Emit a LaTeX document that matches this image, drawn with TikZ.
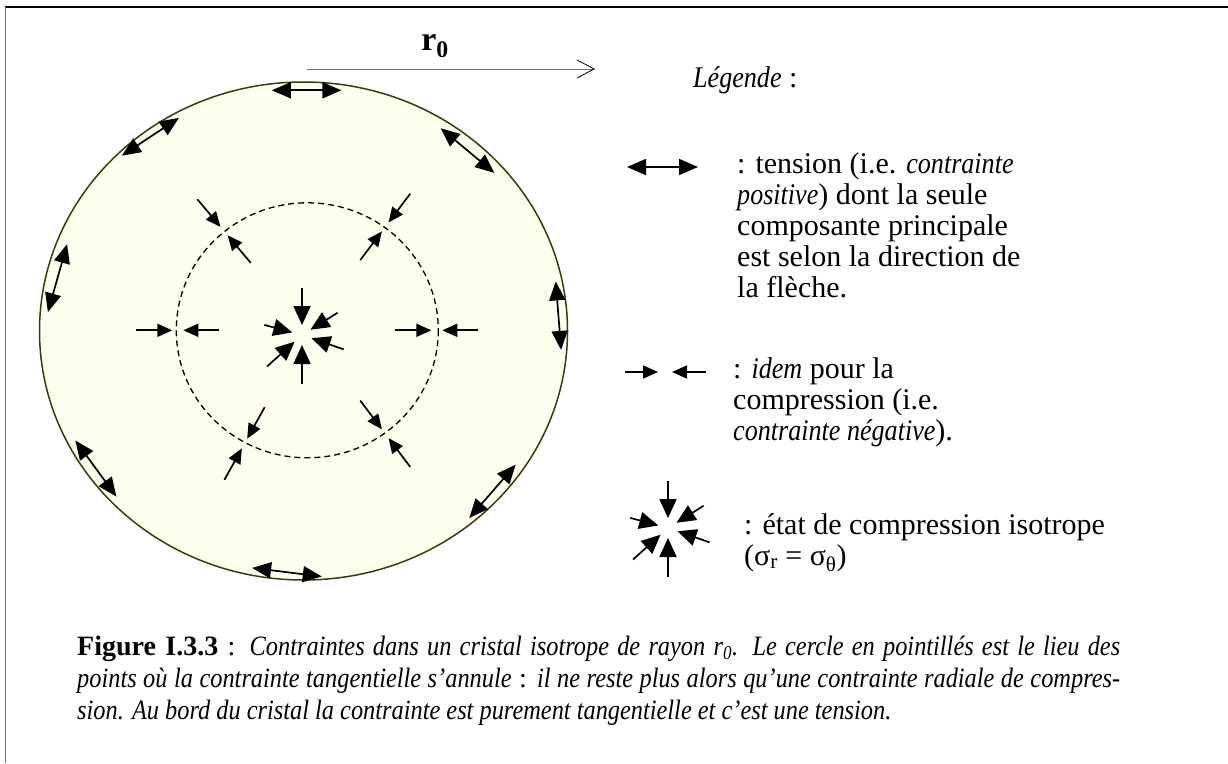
\documentclass[tikz,border=0pt]{standalone}
\usepackage{fontspec}
\setmainfont{Liberation Serif}[ItalicFeatures={FakeStretch=0.87}]
\usetikzlibrary{arrows.meta,calc}
\definecolor{Ivory}{HTML}{FEFEEE}
\definecolor{Olive}{HTML}{3A3A10}
\definecolor{Slate}{HTML}{6E6E6E}

\begin{document}
\begin{tikzpicture}[x=1pt,y=-1pt,
  tens/.style={{Triangle[length=19pt,width=16pt]}-{Triangle[length=19pt,width=16pt]},line width=1.7pt},
  comp/.style={-{Triangle[length=15pt,width=13pt]},line width=1.7pt},
  starray/.style={-{Triangle[length=19pt,width=17pt]},line width=1.7pt},
  isostar/.pic={\foreach \a/\r in {90/47,32/42,-19/44,270/49,222/47,165/39}
    \draw[starray] (-\a:\r) -- (-\a:10);},
  leg/.style={anchor=base west,inner sep=0pt,font=\fontsize{30}{31}\selectfont},
  capline/.style={anchor=base west,inner sep=0pt,font=\fontsize{28}{32}\selectfont}]
\useasboundingbox (0,0) rectangle (1228,763);
% cadre
\draw[line width=2pt] (5,7) -- (1228,7);
\draw[line width=1pt,Slate] (5,7) -- (5,763);
% rayon r0
\coordinate (r0a) at (307,69); \coordinate (r0b) at (595,69);
\draw[Slate,line width=.8pt,-{Straight Barb[length=17pt,width=18pt,line width=.8pt,black]}] (r0a) -- (r0b);
\node[anchor=base,inner sep=0pt,font=\bfseries\fontsize{34}{40}\selectfont] (r0) at (435,50) {r\textsubscript{0}};
% cristal
\coordinate (ctr) at (303.5,331);
\draw[Olive,line width=1.5pt,fill=Ivory] (ctr) ellipse [x radius=264,y radius=249];
% tension au bord
\foreach \p/\q in {{271.8,90.3}/{341.4,90.3},{121.8,155.7}/{178.9,117.9},{440.7,128.2}/{494.3,172.9},
  {67.1,244.2}/{47.9,312.1},{555.7,281.4}/{561.1,349.9},{75.4,440.5}/{116.4,496.6},
  {469.3,518}/{515.7,464.6},{252.1,567.9}/{321.8,576.5}}
  \draw[tens] (\p) -- (\q);
% cercle en pointilles
\coordinate (mid) at (307.3,330.3);
\draw[dash pattern=on 6pt off 4pt,line width=1.3pt] (mid) ellipse [x radius=131,y radius=127.5];
\foreach \a in {0,53,130,180,241,307}{
  \draw[comp] ($(mid)+(-\a:171)$) -- ($(mid)+(-\a:135)$);
  \draw[comp] ($(mid)+(-\a:88)$) -- ($(mid)+(-\a:124)$);}
% centre
\coordinate (core) at (302,335);
\pic at (core) {isostar};
% legende
\node[leg] (legtitle) at (693,87) {\textit{Légende} :};
\coordinate (ta) at (627,167); \coordinate (tb) at (698,167);
\draw[tens] (ta) -- (tb);
\node[leg] (tension) at (737,173) {\begin{tabular}[t]{@{}l@{}}: tension (i.e. \textit{contrainte}\\
  \textit{positive}) dont la seule\\ composante principale\\ est selon la direction de\\ la flèche.\end{tabular}};
\coordinate (ca) at (625,372); \coordinate (cb) at (658,372);
\coordinate (cc) at (706,372); \coordinate (cd) at (672,372);
\draw[comp] (ca) -- (cb); \draw[comp] (cc) -- (cd);
\node[leg] (compression) at (733,378) {\begin{tabular}[t]{@{}l@{}}: \textit{idem} pour la\\
  compression (i.e.\\ \textit{contrainte négative}).\end{tabular}};
\coordinate (legstar) at (668,528);
\pic at (legstar) {isostar};
\node[leg] (isotrope) at (744,534) {\begin{tabular}[t]{@{}l@{}}: état de compression isotrope\\
  (σ\textsubscript{r} = σ\textsubscript{θ})\end{tabular}};
% legende de la figure
\node[capline] (cap1) at (77,655) {\makebox[1043pt][s]{\textbf{Figure I.3.3} : \textit{Contraintes dans un cristal isotrope de rayon r\textsubscript{0}. Le cercle en pointillés est le lieu des}}};
\node[capline] (cap2) at (77,687) {\makebox[1043pt][s]{\textit{points où la contrainte tangentielle s’annule} : \textit{il ne reste plus alors qu’une contrainte radiale de compres-}}};
\node[capline] (cap3) at (77,719) {\textit{sion. Au bord du cristal la contrainte est purement tangentielle et c’est une tension.}};
\end{tikzpicture}
\end{document}
